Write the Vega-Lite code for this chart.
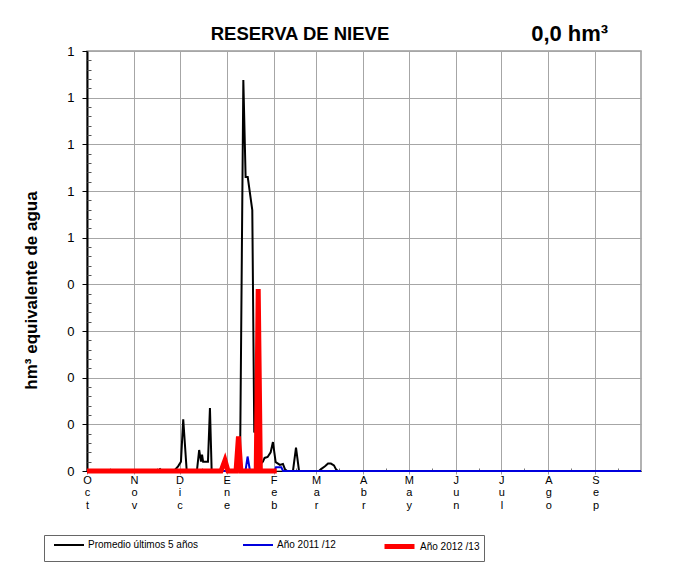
{
  "$schema": "https://vega.github.io/schema/vega-lite/v6.json",
  "width": 554,
  "height": 420,
  "autosize": {"type": "none"},
  "padding": {"left": 87, "top": 51, "right": 33, "bottom": 95},
  "background": "white",
  "title": {"text": "RESERVA DE NIEVE", "frame": "group", "anchor": "middle", "dx": -64, "dy": 3, "font": "Liberation Sans", "fontSize": 18.5, "fontWeight": "bold", "color": "black", "offset": -33, "baseline": "alphabetic"},
  "config": {"view": {"stroke": "#999", "strokeWidth": 1.5}, "font": "Liberation Sans"},
  "datasets": {
    "series": [
      {"serie": "Promedio últimos 5 años", "dia": 0, "hm3": 0},
      {"serie": "Promedio últimos 5 años", "dia": 46.8, "hm3": 0},
      {"serie": "Promedio últimos 5 años", "dia": 48.1, "hm3": 0.004},
      {"serie": "Promedio últimos 5 años", "dia": 49.4, "hm3": 0},
      {"serie": "Promedio últimos 5 años", "dia": 57.3, "hm3": 0},
      {"serie": "Promedio últimos 5 años", "dia": 60, "hm3": 0.01},
      {"serie": "Promedio últimos 5 años", "dia": 61.9, "hm3": 0.02},
      {"serie": "Promedio últimos 5 años", "dia": 63.4, "hm3": 0.111},
      {"serie": "Promedio últimos 5 años", "dia": 65.7, "hm3": 0},
      {"serie": "Promedio últimos 5 años", "dia": 72.4, "hm3": 0},
      {"serie": "Promedio últimos 5 años", "dia": 73.9, "hm3": 0.045},
      {"serie": "Promedio últimos 5 años", "dia": 75.1, "hm3": 0.02},
      {"serie": "Promedio últimos 5 años", "dia": 75.8, "hm3": 0.035},
      {"serie": "Promedio últimos 5 años", "dia": 76.5, "hm3": 0.02},
      {"serie": "Promedio últimos 5 años", "dia": 79.7, "hm3": 0.02},
      {"serie": "Promedio últimos 5 años", "dia": 81, "hm3": 0.135},
      {"serie": "Promedio últimos 5 años", "dia": 82.1, "hm3": 0.004},
      {"serie": "Promedio últimos 5 años", "dia": 82.6, "hm3": 0},
      {"serie": "Promedio últimos 5 años", "dia": 100.8, "hm3": 0},
      {"serie": "Promedio últimos 5 años", "dia": 103, "hm3": 0.838},
      {"serie": "Promedio últimos 5 años", "dia": 104.5, "hm3": 0.63},
      {"serie": "Promedio últimos 5 años", "dia": 105.9, "hm3": 0.63},
      {"serie": "Promedio últimos 5 años", "dia": 108.9, "hm3": 0.559},
      {"serie": "Promedio últimos 5 años", "dia": 110.2, "hm3": 0.084},
      {"serie": "Promedio últimos 5 años", "dia": 111.5, "hm3": 0.083},
      {"serie": "Promedio últimos 5 años", "dia": 112.6, "hm3": 0.01},
      {"serie": "Promedio últimos 5 años", "dia": 115.9, "hm3": 0.02},
      {"serie": "Promedio últimos 5 años", "dia": 117, "hm3": 0.028},
      {"serie": "Promedio últimos 5 años", "dia": 119, "hm3": 0.03},
      {"serie": "Promedio últimos 5 años", "dia": 121, "hm3": 0.04},
      {"serie": "Promedio últimos 5 años", "dia": 122.5, "hm3": 0.062},
      {"serie": "Promedio últimos 5 años", "dia": 124.3, "hm3": 0.019},
      {"serie": "Promedio últimos 5 años", "dia": 127.1, "hm3": 0.013},
      {"serie": "Promedio últimos 5 años", "dia": 129.1, "hm3": 0.015},
      {"serie": "Promedio últimos 5 años", "dia": 130.4, "hm3": 0.004},
      {"serie": "Promedio últimos 5 años", "dia": 131.8, "hm3": 0},
      {"serie": "Promedio últimos 5 años", "dia": 135.7, "hm3": 0},
      {"serie": "Promedio últimos 5 años", "dia": 137.7, "hm3": 0.05},
      {"serie": "Promedio últimos 5 años", "dia": 139.7, "hm3": 0},
      {"serie": "Promedio últimos 5 años", "dia": 152.8, "hm3": 0},
      {"serie": "Promedio últimos 5 años", "dia": 154.2, "hm3": 0.004},
      {"serie": "Promedio últimos 5 años", "dia": 156.8, "hm3": 0.01},
      {"serie": "Promedio últimos 5 años", "dia": 158.8, "hm3": 0.016},
      {"serie": "Promedio últimos 5 años", "dia": 160.7, "hm3": 0.016},
      {"serie": "Promedio últimos 5 años", "dia": 162.7, "hm3": 0.012},
      {"serie": "Promedio últimos 5 años", "dia": 164, "hm3": 0.004},
      {"serie": "Promedio últimos 5 años", "dia": 165.3, "hm3": 0},
      {"serie": "Promedio últimos 5 años", "dia": 365, "hm3": 0},
      {"serie": "Año 2011 /12", "dia": 0, "hm3": 0},
      {"serie": "Año 2011 /12", "dia": 104.4, "hm3": 0},
      {"serie": "Año 2011 /12", "dia": 105.8, "hm3": 0.031},
      {"serie": "Año 2011 /12", "dia": 107.4, "hm3": 0},
      {"serie": "Año 2011 /12", "dia": 123.6, "hm3": 0},
      {"serie": "Año 2011 /12", "dia": 124.5, "hm3": 0.008},
      {"serie": "Año 2011 /12", "dia": 128, "hm3": 0.008},
      {"serie": "Año 2011 /12", "dia": 129.2, "hm3": 0},
      {"serie": "Año 2011 /12", "dia": 365, "hm3": 0},
      {"serie": "Año 2012 /13", "dia": 0, "hm3": 0},
      {"serie": "Año 2012 /13", "dia": 88.3, "hm3": 0},
      {"serie": "Año 2012 /13", "dia": 90.9, "hm3": 0.023},
      {"serie": "Año 2012 /13", "dia": 92.9, "hm3": 0},
      {"serie": "Año 2012 /13", "dia": 98.2, "hm3": 0},
      {"serie": "Año 2012 /13", "dia": 99.8, "hm3": 0.074},
      {"serie": "Año 2012 /13", "dia": 101.4, "hm3": 0},
      {"serie": "Año 2012 /13", "dia": 111.5, "hm3": 0},
      {"serie": "Año 2012 /13", "dia": 112.8, "hm3": 0.39},
      {"serie": "Año 2012 /13", "dia": 114.2, "hm3": 0},
      {"serie": "Año 2012 /13", "dia": 125, "hm3": 0}
    ]
  },
  "layer": [
    {
      "data": {"name": "series"},
      "mark": {"type": "line", "clip": false},
      "encoding": {
        "x": {
          "field": "dia", "type": "quantitative",
          "scale": {"domain": [0, 365], "nice": false, "zero": false},
          "axis": {
            "values": [0, 31, 61, 92, 123, 151, 182, 212, 243, 273, 304, 335],
            "labelExpr": "split(['Oct','Nov','Dic','Ene','Feb','Mar','Abr','May','Jun','Jul','Ago','Sep'][indexof([0,31,61,92,123,151,182,212,243,273,304,335], datum.value)], '')",
            "labelAlign": "center", "labelDx": 1, "labelBaseline": "top", "labelFont": "Liberation Sans", "labelFontSize": 11, "labelLineHeight": 12.5,
            "labelPadding": 0, "labelColor": "black", "labelFlush": false, "labelOverlap": false, "labelBound": false,
            "tickSize": 3, "tickColor": "#999", "domainColor": "black", "domainWidth": 1,
            "grid": true, "gridColor": "#a6a6a6", "gridWidth": 1, "title": null
          }
        },
        "y": {
          "field": "hm3", "type": "quantitative",
          "scale": {"domain": [0, 0.9], "nice": false},
          "axis": {
            "values": [0, 0.1, 0.2, 0.3, 0.4, 0.5, 0.6, 0.7, 0.8, 0.9],
            "format": ".0f",
            "labelFont": "Liberation Sans", "labelFontSize": 13, "labelColor": "black", "labelPadding": 8,
            "tickSize": 5, "tickColor": "black", "domainColor": "black", "domainWidth": 2,
            "grid": true, "gridColor": "#a6a6a6", "gridWidth": 1,
            "title": "hm³ equivalente de agua", "titleFont": "Liberation Sans", "titleFontSize": 17, "titleFontWeight": "bold", "titleColor": "black",
            "titleAngle": -90, "titleX": -47, "titleY": 239, "titleBaseline": "bottom", "titleAlign": "center"
          }
        },
        "color": {
          "field": "serie", "type": "nominal",
          "scale": {"domain": ["Promedio últimos 5 años", "Año 2011 /12", "Año 2012 /13"], "range": ["#000000", "#0000dd", "#ff0000"]},
          "legend": {
            "title": null, "orient": "none", "legendX": -43, "legendY": 484, "direction": "horizontal",
            "symbolType": "M0,0H6", "symbolSize": 100, "labelOffset": 28, "columnPadding": 38, "gridAlign": "none",
            "labelFont": "Liberation Sans", "labelFontSize": 10, "labelColor": "black", "labelLimit": 300,
            "strokeColor": "#666", "padding": 4
          }
        },
        "strokeWidth": {
          "field": "serie", "type": "nominal",
          "scale": {"type": "ordinal", "domain": ["Promedio últimos 5 años", "Año 2011 /12", "Año 2012 /13"], "range": [2, 2, 5]}
        }
      }
    },
    {
      "data": {"name": "series"},
      "mark": {"type": "point", "opacity": 0},
      "encoding": {
        "x": {
          "field": "dia", "type": "quantitative",
          "axis": {"orient": "bottom", "values": [15, 46, 76, 107, 138, 166, 197, 227, 258, 288, 319, 350], "labels": false, "domain": false, "grid": false, "tickSize": -3, "tickColor": "#777", "title": null}
        },
        "y": {
          "field": "hm3", "type": "quantitative",
          "axis": {"orient": "left", "values": [0.02, 0.04, 0.06, 0.08, 0.12, 0.14, 0.16, 0.18, 0.22, 0.24, 0.26, 0.28, 0.32, 0.34, 0.36, 0.38, 0.42, 0.44, 0.46, 0.48, 0.52, 0.54, 0.56, 0.58, 0.62, 0.64, 0.66, 0.68, 0.72, 0.74, 0.76, 0.78, 0.82, 0.84, 0.86, 0.88], "labels": false, "domain": false, "grid": false, "tickSize": -4, "tickColor": "#555", "title": null}
        }
      }
    },
    {
      "data": {"values": [{"etiqueta": "0,0 hm³"}]},
      "mark": {"type": "text", "align": "center", "baseline": "alphabetic", "font": "Liberation Sans", "fontSize": 22, "fontWeight": "bold", "color": "black", "clip": false},
      "encoding": {
        "x": {"datum": 318, "type": "quantitative", "axis": null},
        "y": {"datum": 0.922, "type": "quantitative", "axis": null},
        "text": {"field": "etiqueta"}
      }
    }
  ],
  "resolve": {"axis": {"x": "independent", "y": "independent"}}
}
